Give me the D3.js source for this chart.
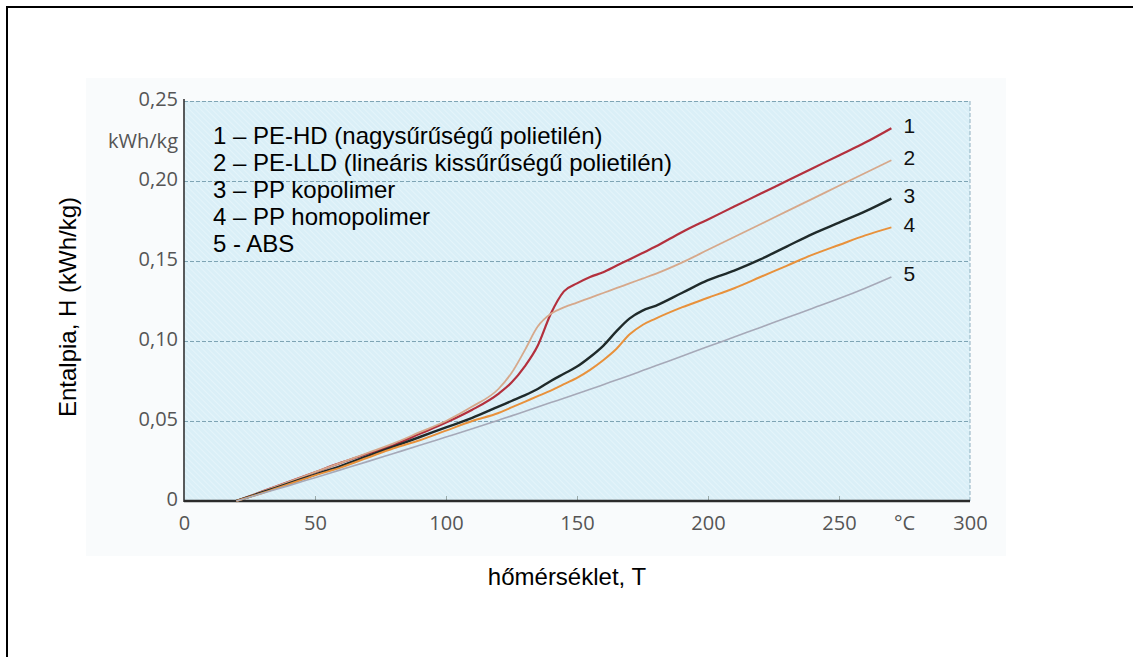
<!DOCTYPE html>
<html>
<head>
<meta charset="utf-8">
<script src="https://cdn.jsdelivr.net/npm/d3@7"></script>
<style>
  body { margin: 0; background: #fff; }
  svg { display: block; }
</style>
</head>
<body>
<div id="chart"></div>
<script>
// Temperatures (°C) shared by every curve
const temps = [20, 30, 40, 50, 60, 70, 80, 90, 100, 110, 120, 125, 130, 135, 140, 145,
  150, 155, 160, 165, 170, 175, 180, 190, 200, 210, 220, 230, 240, 250, 260, 270];

// Enthalpy (kWh/kg) per material
const peHD = [0, 0.006, 0.012, 0.018, 0.024, 0.0295, 0.035, 0.042, 0.049, 0.057, 0.067, 0.074,
  0.084, 0.097, 0.117, 0.131, 0.136, 0.140, 0.143, 0.147, 0.151, 0.155, 0.159, 0.168, 0.176,
  0.184, 0.192, 0.200, 0.208, 0.216, 0.224, 0.233];
const peLLD = [0, 0.006, 0.012, 0.018, 0.024, 0.030, 0.036, 0.043, 0.050, 0.059, 0.070, 0.080,
  0.094, 0.109, 0.117, 0.121, 0.124, 0.127, 0.130, 0.133, 0.136, 0.139, 0.142, 0.149, 0.157,
  0.165, 0.173, 0.181, 0.189, 0.197, 0.205, 0.213];
const ppKopolimer = [0, 0.0055, 0.011, 0.0165, 0.022, 0.028, 0.034, 0.040, 0.046, 0.052, 0.059,
  0.0625, 0.066, 0.070, 0.075, 0.0795, 0.084, 0.090, 0.097, 0.106, 0.114, 0.119, 0.122, 0.130,
  0.138, 0.144, 0.151, 0.159, 0.167, 0.174, 0.181, 0.189];
const ppHomopolimer = [0, 0.005, 0.0105, 0.016, 0.021, 0.027, 0.033, 0.038, 0.044, 0.050, 0.055,
  0.0585, 0.062, 0.0655, 0.069, 0.073, 0.077, 0.082, 0.088, 0.095, 0.104, 0.110, 0.114, 0.121,
  0.127, 0.133, 0.140, 0.147, 0.154, 0.160, 0.166, 0.171];
const abs = [0, 0.0048, 0.0096, 0.0146, 0.0196, 0.0246, 0.0297, 0.0348, 0.040, 0.0452, 0.0505,
  0.0532, 0.056, 0.0587, 0.0615, 0.0642, 0.067, 0.0698, 0.0727, 0.0756, 0.0785, 0.0815, 0.0845,
  0.0905, 0.0965, 0.1025, 0.1085, 0.1145, 0.1205, 0.1265, 0.133, 0.140];

const legendLines = [
  '1 – PE-HD (nagysűrűségű polietilén)',
  '2 – PE-LLD (lineáris kissűrűségű polietilén)',
  '3 – PP kopolimer',
  '4 – PP homopolimer',
  '5 - ABS'
];
const curveLabels = ['1', '2', '3', '4', '5'];

const xTicks = [0, 50, 100, 150, 200, 250, 300];
const yTicks = [0, 0.05, 0.10, 0.15, 0.20, 0.25];
const yTickLabels = ['0', '0,05', '0,10', '0,15', '0,20', '0,25'];

// Line colours, same order as the series
const COLORS = ['#b3303d', '#d6a88b', '#1f2a2a', '#e8913b', '#a6a9b8'];
const WIDTHS = [2.2, 1.8, 2.4, 2.0, 1.6];

const series = [peHD, peLLD, ppKopolimer, ppHomopolimer, abs];

const width = 1133, height = 657;
const tickFont = "20px 'Open Sans', sans-serif";
const textFont = "24px 'Liberation Sans', Arial, sans-serif";

const x = d3.scaleLinear().domain([0, 300]).range([184, 970]);
const y = d3.scaleLinear().domain([0, 0.25]).range([501, 101]);

const svg = d3.select('#chart').append('svg')
  .attr('width', width)
  .attr('height', height);

// hatched plot background
const defs = svg.append('defs');
const pat = defs.append('pattern')
  .attr('id', 'hatch')
  .attr('width', 4).attr('height', 4)
  .attr('patternUnits', 'userSpaceOnUse')
  .attr('patternTransform', 'rotate(-45)');
pat.append('rect').attr('width', 4).attr('height', 4).attr('fill', '#daeff7');
pat.append('line').attr('x1', 0).attr('y1', 0).attr('x2', 0).attr('y2', 4)
  .attr('stroke', '#e8f6fb').attr('stroke-width', 1.5);

// faint scan tint around the plot
svg.append('rect')
  .attr('x', 86).attr('y', 78).attr('width', 920).attr('height', 478)
  .attr('fill', '#f9fbfc');

svg.append('rect')
  .attr('x', x(0)).attr('y', y(0.25))
  .attr('width', x(300) - x(0)).attr('height', y(0) - y(0.25))
  .attr('fill', 'url(#hatch)');

// dashed grid lines
svg.append('g')
  .attr('transform', `translate(${x(0)},0)`)
  .call(d3.axisLeft(y).tickValues(yTicks.slice(1)).tickSize(-(x(300) - x(0))).tickFormat(''))
  .call(g => g.select('.domain').remove())
  .selectAll('line')
  .attr('stroke', '#7ea4b4')
  .attr('stroke-width', 1)
  .attr('stroke-dasharray', '4,2');

// right border of the plot
svg.append('line')
  .attr('x1', x(300)).attr('x2', x(300))
  .attr('y1', y(0.25)).attr('y2', y(0))
  .attr('stroke', '#8fb0bf')
  .attr('stroke-dasharray', '4,2');

// small inner ticks on the temperature axis
svg.append('g')
  .attr('transform', `translate(0,${y(0)})`)
  .call(d3.axisBottom(x).tickValues(xTicks.slice(1, -1)).tickSize(-5).tickFormat(''))
  .call(g => g.select('.domain').remove())
  .selectAll('line').attr('stroke', '#9aa');

// Y tick labels
svg.append('g')
  .attr('transform', `translate(${x(0) - 6},0)`)
  .call(d3.axisLeft(y).tickValues(yTicks).tickSize(0).tickPadding(0)
    .tickFormat((d, i) => yTickLabels[i]))
  .call(g => g.select('.domain').remove())
  .selectAll('text')
  .attr('dy', '0.2em')
  .style('font', tickFont)
  .attr('fill', '#555');

svg.append('text')
  .attr('x', x(0) - 6)
  .attr('y', (y(0.25) + y(0.20)) / 2)
  .attr('dy', '0.35em')
  .attr('text-anchor', 'end')
  .style('font', tickFont)
  .attr('fill', '#555')
  .text('kWh/kg');

// X tick labels
svg.append('g')
  .attr('transform', `translate(0,${y(0)})`)
  .call(d3.axisBottom(x).tickValues(xTicks).tickSize(0).tickPadding(15).tickFormat(d3.format('d')))
  .call(g => g.select('.domain').remove())
  .selectAll('text')
  .style('font', tickFont)
  .attr('fill', '#555');

svg.append('text')
  .attr('x', x(275))
  .attr('y', y(0) + 15)
  .attr('dy', '0.71em')
  .attr('text-anchor', 'middle')
  .style('font', tickFont)
  .attr('fill', '#555')
  .text('°C');

// axis lines
svg.append('line')
  .attr('x1', x(0)).attr('x2', x(0))
  .attr('y1', y(0.25) - 2).attr('y2', y(0) + 1)
  .attr('stroke', '#333').attr('stroke-width', 1.6);
svg.append('line')
  .attr('x1', x(0)).attr('x2', x(300))
  .attr('y1', y(0)).attr('y2', y(0))
  .attr('stroke', '#2b2b2b').attr('stroke-width', 2.4);

// curves
const line = d3.line()
  .x((d, i) => x(temps[i]))
  .y(d => y(d))
  .curve(d3.curveMonotoneX);

svg.append('g')
  .selectAll('path')
  .data(series)
  .join('path')
  .attr('fill', 'none')
  .attr('stroke', (d, i) => COLORS[i])
  .attr('stroke-width', (d, i) => WIDTHS[i])
  .attr('stroke-linejoin', 'round')
  .attr('d', line);

// number at the end of each curve
svg.append('g')
  .selectAll('text')
  .data(series)
  .join('text')
  .attr('x', x(temps[temps.length - 1]) + 12)
  .attr('y', d => y(d[d.length - 1]) - 3)
  .attr('dy', '0.35em')
  .style('font', "21px 'Liberation Sans', Arial, sans-serif")
  .attr('fill', '#111')
  .text((d, i) => curveLabels[i]);

// legend text block
svg.append('g')
  .selectAll('text')
  .data(legendLines)
  .join('text')
  .attr('x', 213)
  .attr('y', (d, i) => 144 + i * 27)
  .style('font', textFont)
  .attr('fill', '#000')
  .text(d => d);

// axis titles
svg.append('text')
  .attr('transform', `translate(76,307) rotate(-90)`)
  .attr('text-anchor', 'middle')
  .style('font', textFont)
  .attr('fill', '#000')
  .text('Entalpia, H (kWh/kg)');

svg.append('text')
  .attr('x', 567)
  .attr('y', 585)
  .attr('text-anchor', 'middle')
  .style('font', textFont)
  .attr('fill', '#000')
  .text('hőmérséklet, T');

// outer frame (right and bottom edges fall outside the picture)
svg.append('rect')
  .attr('x', 7).attr('y', 7)
  .attr('width', 1140).attr('height', 670)
  .attr('fill', 'none')
  .attr('stroke', '#000')
  .attr('stroke-width', 2);
</script>
</body>
</html>
